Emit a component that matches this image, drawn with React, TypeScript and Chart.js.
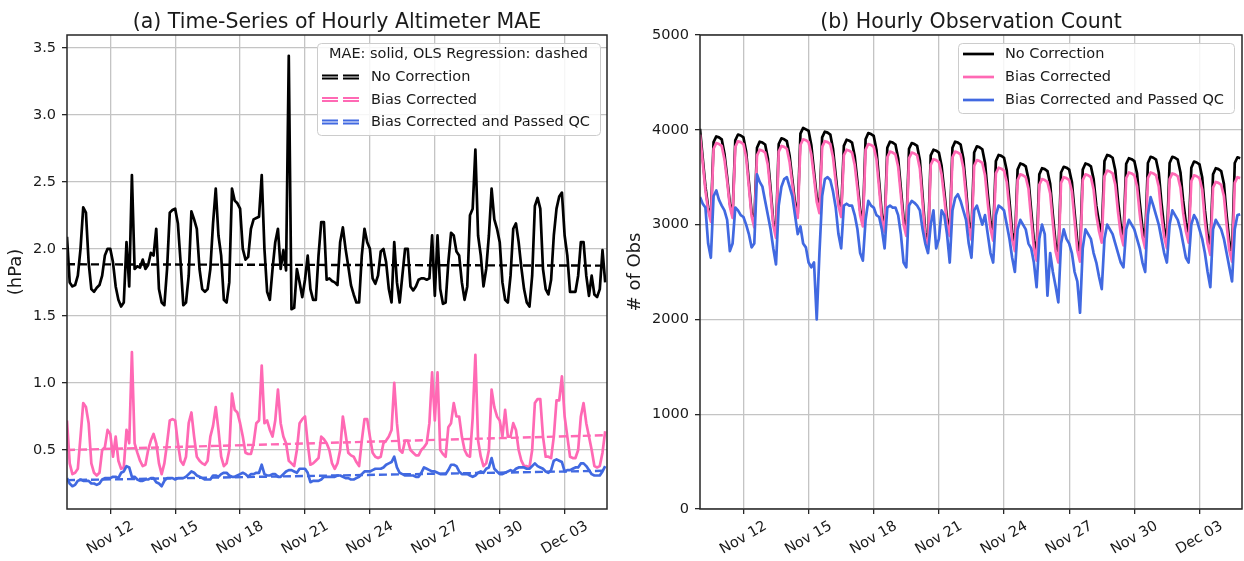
import React, { useEffect, useRef } from 'react';
import { Chart, registerables } from 'chart.js';

Chart.register(...registerables);

// ---------------- data ----------------
const STEP_HOURS = 3; // samples every 3 h starting Nov 10 00:00
const X_MAX_HOURS = 599;
const TICK_HOURS = [48, 120, 192, 264, 336, 408, 480, 552];
const TICK_LABELS = ['Nov 12', 'Nov 15', 'Nov 18', 'Nov 21', 'Nov 24', 'Nov 27', 'Nov 30', 'Dec 03'];
const MAE_TICKS = [0.5, 1.0, 1.5, 2.0, 2.5, 3.0, 3.5];
const COUNT_TICKS = [0, 1000, 2000, 3000, 4000, 5000];
const SERIES_NAMES = ['No Correction', 'Bias Corrected', 'Bias Corrected and Passed QC'];
const SERIES_COLORS = ['#000000', '#ff69b4', '#4169e1'];

// Hourly altimeter MAE (hPa)
const maeNoCorrection = [
  2.09, 1.75, 1.72, 1.73, 1.80, 2.00, 2.31, 2.27,
  1.90, 1.70, 1.68, 1.71, 1.73, 1.80, 1.95, 2.00,
  2.00, 1.90, 1.72, 1.62, 1.57, 1.60, 2.05, 1.72,
  2.55, 1.85, 1.87, 1.86, 1.92, 1.85, 1.88, 1.97,
  1.95, 2.15, 1.70, 1.60, 1.58, 1.85, 2.27, 2.29,
  2.30, 2.19, 1.90, 1.58, 1.60, 1.80, 2.28, 2.22,
  2.15, 1.85, 1.70, 1.68, 1.70, 1.85, 2.19, 2.45,
  2.10, 1.95, 1.62, 1.60, 1.75, 2.45, 2.36, 2.34,
  2.30, 2.00, 1.92, 1.94, 2.15, 2.22, 2.23, 2.24,
  2.55, 2.00, 1.68, 1.62, 1.85, 2.05, 2.15, 1.85,
  1.99, 1.84, 3.44, 1.55, 1.56, 1.85, 1.75, 1.64,
  1.77, 1.95, 1.70, 1.62, 1.62, 1.95, 2.20, 2.20,
  1.77, 1.78, 1.76, 1.75, 1.73, 2.05, 2.16, 2.00,
  1.87, 1.73, 1.66, 1.60, 1.60, 1.95, 2.15, 2.05,
  2.00, 1.78, 1.74, 1.80, 1.98, 2.00, 1.90, 1.70,
  1.60, 2.05, 1.75, 1.60, 1.80, 2.00, 2.00, 1.72,
  1.69, 1.72, 1.77, 1.78, 1.78, 1.77, 1.78, 2.10,
  1.65, 2.10, 1.70, 1.59, 1.60, 1.90, 2.12, 2.10,
  1.98, 1.95, 1.75, 1.62, 1.72, 2.25, 2.30, 2.74,
  2.10, 1.95, 1.72, 1.85, 2.10, 2.45, 2.22, 2.15,
  2.05, 1.75, 1.62, 1.60, 1.80, 2.15, 2.19, 2.05,
  1.86, 1.70, 1.60, 1.57, 1.80, 2.32, 2.38, 2.30,
  1.85, 1.70, 1.66, 1.77, 2.10, 2.30, 2.39, 2.42,
  2.10, 1.95, 1.68, 1.68, 1.68, 1.80, 2.05, 2.05,
  1.80, 1.65, 1.80, 1.66, 1.64, 1.70, 1.99, 1.75,
];

const maeBiasCorrected = [
  0.72, 0.40, 0.32, 0.33, 0.36, 0.60, 0.85, 0.82,
  0.70, 0.40, 0.33, 0.31, 0.33, 0.50, 0.52, 0.65,
  0.62, 0.45, 0.60, 0.42, 0.36, 0.37, 0.65, 0.55,
  1.23, 0.55, 0.48, 0.42, 0.38, 0.39, 0.50, 0.57,
  0.62, 0.55, 0.40, 0.32, 0.40, 0.55, 0.72, 0.73,
  0.72, 0.55, 0.42, 0.39, 0.45, 0.70, 0.78, 0.60,
  0.45, 0.42, 0.40, 0.39, 0.42, 0.60, 0.68, 0.82,
  0.65, 0.45, 0.38, 0.40, 0.50, 0.92, 0.80, 0.78,
  0.70, 0.60, 0.48, 0.47, 0.47, 0.55, 0.70, 0.72,
  1.13, 0.70, 0.72, 0.65, 0.60, 0.72, 0.95, 0.70,
  0.60, 0.55, 0.42, 0.40, 0.38, 0.50, 0.70, 0.73,
  0.75, 0.55, 0.39, 0.40, 0.42, 0.44, 0.60, 0.58,
  0.55, 0.50, 0.40, 0.36, 0.40, 0.50, 0.75, 0.62,
  0.48, 0.46, 0.45, 0.41, 0.38, 0.57, 0.73, 0.73,
  0.60, 0.48, 0.45, 0.44, 0.45, 0.55, 0.57, 0.60,
  0.65, 1.00, 0.70, 0.50, 0.48, 0.57, 0.57, 0.50,
  0.48, 0.46, 0.46, 0.50, 0.52, 0.55, 0.70, 1.08,
  0.72, 1.08, 0.50, 0.47, 0.45, 0.67, 0.70, 0.85,
  0.75, 0.75, 0.60, 0.50, 0.46, 0.45, 0.74, 1.21,
  0.57, 0.45, 0.38, 0.40, 0.50, 0.95, 0.82, 0.75,
  0.72, 0.60, 0.80, 0.60, 0.60, 0.70, 0.65, 0.50,
  0.42, 0.38, 0.38, 0.37, 0.50, 0.85, 0.88, 0.88,
  0.60, 0.45, 0.45, 0.44, 0.60, 0.87, 0.87, 1.05,
  0.75, 0.60, 0.45, 0.44, 0.44, 0.50, 0.75, 0.85,
  0.70, 0.60, 0.50, 0.38, 0.37, 0.38, 0.48, 0.64,
];

const maePassedQC = [
  0.29, 0.25, 0.23, 0.24, 0.27, 0.28, 0.27, 0.27,
  0.27, 0.25, 0.25, 0.24, 0.25, 0.28, 0.29, 0.29,
  0.29, 0.30, 0.30, 0.29, 0.33, 0.34, 0.38, 0.37,
  0.30, 0.30, 0.28, 0.27, 0.27, 0.28, 0.28, 0.29,
  0.29, 0.26, 0.25, 0.23, 0.27, 0.29, 0.29, 0.29,
  0.28, 0.29, 0.29, 0.29, 0.30, 0.32, 0.34, 0.33,
  0.31, 0.30, 0.29, 0.28, 0.28, 0.28, 0.31, 0.31,
  0.30, 0.32, 0.33, 0.33, 0.31, 0.30, 0.30, 0.31,
  0.32, 0.33, 0.32, 0.30, 0.32, 0.32, 0.33, 0.33,
  0.39, 0.32, 0.31, 0.31, 0.32, 0.32, 0.30, 0.30,
  0.32, 0.34, 0.35, 0.35, 0.34, 0.33, 0.36, 0.36,
  0.36, 0.33, 0.26, 0.27, 0.27, 0.27, 0.28, 0.30,
  0.30, 0.30, 0.30, 0.30, 0.31, 0.31, 0.30, 0.29,
  0.29, 0.28, 0.28, 0.29, 0.30, 0.32, 0.34, 0.34,
  0.34, 0.35, 0.36, 0.36, 0.36, 0.37, 0.39, 0.40,
  0.41, 0.45, 0.37, 0.33, 0.32, 0.31, 0.31, 0.31,
  0.31, 0.30, 0.30, 0.33, 0.37, 0.36, 0.35, 0.34,
  0.34, 0.33, 0.32, 0.32, 0.32, 0.35, 0.39, 0.39,
  0.38, 0.34, 0.32, 0.32, 0.32, 0.31, 0.30, 0.31,
  0.33, 0.34, 0.33, 0.36, 0.37, 0.44, 0.36, 0.34,
  0.32, 0.32, 0.33, 0.34, 0.35, 0.34, 0.36, 0.37,
  0.37, 0.37, 0.36, 0.36, 0.38, 0.40, 0.38, 0.37,
  0.36, 0.34, 0.33, 0.35, 0.42, 0.43, 0.42, 0.41,
  0.34, 0.35, 0.35, 0.36, 0.37, 0.37, 0.40, 0.40,
  0.38, 0.35, 0.32, 0.31, 0.31, 0.31, 0.34, 0.38,
];

// OLS regression lines: [value at start, value at end]
const REG_HOURS = [0, 597];
const regNoCorrection = [1.885, 1.875];
const regBiasCorrected = [0.5, 0.61];
const regPassedQC = [0.275, 0.345];

// Hourly observation counts
const countNoCorrection = [
  4010, 3700, 3400, 3180, 3060, 3870, 3930, 3920,
  3900, 3750, 3500, 3220, 3100, 3890, 3950, 3940,
  3920, 3770, 3450, 3130, 3005, 3810, 3875, 3865,
  3845, 3700, 3380, 3030, 2900, 3850, 3910, 3900,
  3880, 3730, 3480, 3230, 3110, 3960, 4020, 4005,
  3990, 3840, 3560, 3290, 3165, 3920, 3980, 3970,
  3950, 3800, 3520, 3250, 3130, 3830, 3895, 3885,
  3865, 3720, 3450, 3150, 3025, 3900, 3965, 3955,
  3935, 3790, 3450, 3100, 2970, 3810, 3875, 3865,
  3845, 3700, 3380, 3060, 2935, 3800, 3860, 3850,
  3830, 3680, 3300, 2920, 2795, 3730, 3790, 3780,
  3760, 3620, 3350, 3060, 2935, 3810, 3875, 3865,
  3845, 3700, 3380, 3030, 2900, 3760, 3825, 3815,
  3795, 3650, 3330, 3030, 2900, 3670, 3735, 3725,
  3705, 3570, 3250, 2920, 2795, 3580, 3645, 3635,
  3615, 3480, 3150, 2830, 2705, 3530, 3595, 3585,
  3565, 3430, 3100, 2800, 2670, 3550, 3610, 3600,
  3580, 3450, 3130, 2820, 2690, 3580, 3645, 3635,
  3615, 3480, 3200, 3020, 2900, 3670, 3735, 3725,
  3705, 3570, 3250, 2990, 2865, 3640, 3700, 3690,
  3670, 3540, 3230, 2960, 2830, 3650, 3715, 3705,
  3685, 3550, 3230, 2960, 2830, 3650, 3715, 3705,
  3685, 3550, 3250, 3020, 2900, 3600, 3665, 3655,
  3635, 3500, 3150, 2890, 2760, 3530, 3595, 3585,
  3565, 3430, 3100, 2820, 2690, 3650, 3710, 3700,
];

const countBiasCorrected = [
  3950, 3660, 3360, 3150, 3030, 3800, 3860, 3850,
  3830, 3690, 3460, 3190, 3070, 3820, 3880, 3870,
  3850, 3710, 3400, 3090, 2970, 3730, 3790, 3780,
  3760, 3630, 3330, 2990, 2860, 3770, 3830, 3820,
  3800, 3660, 3430, 3190, 3070, 3840, 3900, 3890,
  3870, 3740, 3500, 3240, 3120, 3820, 3880, 3870,
  3850, 3710, 3450, 3200, 3080, 3730, 3790, 3780,
  3760, 3630, 3380, 3100, 2980, 3790, 3850, 3840,
  3820, 3690, 3380, 3050, 2920, 3710, 3770, 3760,
  3740, 3610, 3310, 3000, 2880, 3700, 3760, 3750,
  3730, 3590, 3230, 2860, 2740, 3630, 3690, 3680,
  3660, 3530, 3280, 3000, 2880, 3710, 3770, 3760,
  3740, 3600, 3300, 2970, 2840, 3620, 3680, 3670,
  3650, 3520, 3230, 2960, 2830, 3540, 3600, 3590,
  3570, 3450, 3150, 2840, 2720, 3470, 3530, 3520,
  3500, 3380, 3060, 2750, 2620, 3420, 3480, 3470,
  3450, 3330, 3010, 2720, 2600, 3440, 3500, 3490,
  3470, 3350, 3040, 2730, 2610, 3470, 3530, 3520,
  3500, 3370, 3100, 2930, 2810, 3510, 3570, 3560,
  3540, 3420, 3130, 2900, 2780, 3490, 3550, 3540,
  3520, 3400, 3110, 2870, 2750, 3490, 3550, 3540,
  3520, 3400, 3100, 2870, 2750, 3480, 3540, 3530,
  3510, 3390, 3120, 2930, 2810, 3460, 3520, 3510,
  3490, 3370, 3040, 2800, 2680, 3390, 3450, 3440,
  3420, 3300, 3000, 2730, 2610, 3440, 3500, 3490,
];

const countPassedQC = [
  3290, 3220, 3180, 2800, 2650, 3300, 3360, 3260,
  3200, 3150, 3050, 2720, 2800, 3180, 3150, 3100,
  3080, 3000, 2900, 2760, 2800, 3530, 3450, 3400,
  3250, 3100, 2950, 2750, 2580, 3200, 3400, 3480,
  3500, 3400, 3300, 3100, 2900, 2980, 2800, 2760,
  2600, 2550, 2600, 2000, 2700, 3300, 3480, 3500,
  3470, 3350, 3180, 2900, 2750, 3200, 3220, 3200,
  3200, 3100, 2950, 2700, 2620, 3050, 3250, 3200,
  3180, 3100, 3080, 2950, 2750, 3180, 3200, 3180,
  3180, 3100, 2900, 2600, 2550, 3200, 3250, 3230,
  3200, 3150, 2950, 2800, 2700, 3000, 3150, 2750,
  2850, 3150, 3100, 2900, 2600, 3150, 3280, 3320,
  3250, 3150, 3050, 2800, 2650, 3150, 3200, 3100,
  3000, 3100, 2900, 2700, 2600, 3100, 3200, 3180,
  3150, 3000, 2850, 2650, 2500, 2950, 3050, 3000,
  2950, 2800, 2750, 2600, 2340, 2850, 3000, 2900,
  2250, 2700, 2500, 2350, 2180, 2800, 2950, 2850,
  2800, 2700, 2500, 2400, 2070, 2750, 2950, 2900,
  2850, 2700, 2600, 2450, 2320, 2850, 3000, 2950,
  2900, 2800, 2700, 2600, 2550, 2950, 3050, 3000,
  2950, 2850, 2750, 2600, 2500, 3100, 3290, 3200,
  3100, 3000, 2850, 2700, 2600, 3000, 3150, 3100,
  3050, 2950, 2800, 2650, 2600, 3000, 3100, 3050,
  2950, 2850, 2700, 2500, 2340, 2950, 3050, 3000,
  2950, 2850, 2700, 2550, 2400, 2950, 3100, 3110,
];

// ---------------- helpers ----------------
const FONT = '"DejaVu Sans", "Liberation Sans", sans-serif';
const TEXT_COLOR = '#1a1a1a';
const GRID_COLOR = '#c4c4c4';
const SPINE_COLOR = '#262626';

const toPoints = (arr: number[]) => arr.map((v, i) => ({ x: i * STEP_HOURS, y: v }));
const regPoints = (arr: number[]) => arr.map((v, i) => ({ x: REG_HOURS[i], y: v }));

function lineDs(label: string, data: any[], color: string, dashed = false) {
  return {
    label,
    data,
    borderColor: color,
    backgroundColor: color,
    borderWidth: dashed ? 2.4 : 2.7,
    borderDash: dashed ? [8, 4] : [],
    pointRadius: 0,
    pointHoverRadius: 0,
    fill: false,
    tension: 0,
    borderJoinStyle: 'round' as const,
  };
}

type PanelOpts = {
  title: string;
  yLabel: string;
  yLabelX: number;
  legend: (ctx: CanvasRenderingContext2D) => void;
};

function decorPlugin(opts: PanelOpts) {
  return {
    id: 'decor',
    afterDraw(chart: any) {
      const ctx: CanvasRenderingContext2D = chart.ctx;
      const a = chart.chartArea;
      ctx.save();
      // spines (full box)
      ctx.strokeStyle = SPINE_COLOR;
      ctx.lineWidth = 1.5;
      ctx.strokeRect(a.left, a.top, a.right - a.left, a.bottom - a.top);
      // title
      ctx.fillStyle = TEXT_COLOR;
      ctx.font = `20.5px ${FONT}`;
      ctx.textAlign = 'center';
      ctx.textBaseline = 'alphabetic';
      ctx.fillText(opts.title, (a.left + a.right) / 2, 28);
      // y label
      ctx.font = `18px ${FONT}`;
      ctx.save();
      ctx.translate(opts.yLabelX, (a.top + a.bottom) / 2);
      ctx.rotate(-Math.PI / 2);
      ctx.textAlign = 'center';
      ctx.textBaseline = 'middle';
      ctx.fillText(opts.yLabel, 0, 0);
      ctx.restore();
      // x tick labels rotated 30 deg, centred under the tick
      const xs = chart.scales.x;
      ctx.font = `14.5px ${FONT}`;
      TICK_HOURS.forEach((h, i) => {
        const px = xs.getPixelForValue(h);
        ctx.save();
        ctx.translate(px, a.bottom + 29);
        ctx.rotate(-Math.PI / 6);
        ctx.textAlign = 'center';
        ctx.textBaseline = 'middle';
        ctx.fillText(TICK_LABELS[i], 0, 0);
        ctx.restore();
      });
      // legend
      opts.legend(ctx);
      ctx.restore();
    },
  };
}

function legendFrame(ctx: CanvasRenderingContext2D, x: number, y: number, w: number, h: number) {
  ctx.beginPath();
  (ctx as any).roundRect(x + 0.5, y + 0.5, w, h, 4);
  ctx.fillStyle = 'rgba(255,255,255,0.85)';
  ctx.fill();
  ctx.strokeStyle = '#cccccc';
  ctx.lineWidth = 1;
  ctx.stroke();
}

function drawLeftLegend(ctx: CanvasRenderingContext2D) {
  legendFrame(ctx, 317, 43, 283, 92);
  ctx.fillStyle = TEXT_COLOR;
  ctx.font = `14.5px ${FONT}`;
  ctx.textAlign = 'center';
  ctx.textBaseline = 'middle';
  ctx.fillText('MAE: solid, OLS Regression: dashed', 458.5, 54);
  const rows = [77, 99.5, 122];
  rows.forEach((ry, i) => {
    ctx.strokeStyle = SERIES_COLORS[i];
    ctx.lineWidth = 2;
    ctx.setLineDash([]);
    [ry - 1.6, ry + 1.6].forEach((yy) => {
      ctx.beginPath();
      ctx.moveTo(322, yy);
      ctx.lineTo(338, yy);
      ctx.moveTo(343, yy);
      ctx.lineTo(359, yy);
      ctx.stroke();
    });
    ctx.fillStyle = TEXT_COLOR;
    ctx.textAlign = 'left';
    ctx.fillText(SERIES_NAMES[i], 371, ry + 0.5);
  });
}

function drawRightLegend(ctx: CanvasRenderingContext2D) {
  legendFrame(ctx, 338, 43, 276, 70);
  ctx.font = `14.5px ${FONT}`;
  ctx.textBaseline = 'middle';
  const rows = [54, 77, 100];
  rows.forEach((ry, i) => {
    ctx.strokeStyle = SERIES_COLORS[i];
    ctx.lineWidth = 2.7;
    ctx.setLineDash([]);
    ctx.beginPath();
    ctx.moveTo(343, ry);
    ctx.lineTo(374, ry);
    ctx.stroke();
    ctx.fillStyle = TEXT_COLOR;
    ctx.textAlign = 'left';
    ctx.fillText(SERIES_NAMES[i], 385, ry + 0.5);
  });
}

function baseOptions(yTicks: number[], yMin: number, yMax: number, yFmt: (v: number) => string, yWidth: number, padRight: number) {
  return {
    responsive: false,
    maintainAspectRatio: false,
    animation: false as const,
    devicePixelRatio: 1,
    events: [] as any[],
    layout: { padding: { top: 35, right: padRight, bottom: 0, left: 0 } },
    plugins: { legend: { display: false }, title: { display: false }, tooltip: { enabled: false } },
    scales: {
      x: {
        type: 'linear' as const,
        min: 0,
        max: X_MAX_HOURS,
        afterBuildTicks: (s: any) => {
          s.ticks = TICK_HOURS.map((v) => ({ value: v }));
        },
        afterFit: (s: any) => {
          s.height = 52;
        },
        ticks: { display: false, autoSkip: false },
        grid: { color: GRID_COLOR, lineWidth: 1.3, drawTicks: true, tickLength: 5, tickColor: SPINE_COLOR, tickWidth: 1.3 },
        border: { display: false },
      },
      y: {
        type: 'linear' as const,
        min: yMin,
        max: yMax,
        afterBuildTicks: (s: any) => {
          s.ticks = yTicks.map((v) => ({ value: v }));
        },
        afterFit: (s: any) => {
          s.width = yWidth;
        },
        ticks: {
          autoSkip: false,
          padding: 6,
          color: TEXT_COLOR,
          font: { family: FONT, size: 14.5 },
          callback: (v: any) => yFmt(Number(v)),
        },
        grid: { color: GRID_COLOR, lineWidth: 1.3, drawTicks: true, tickLength: 5, tickColor: SPINE_COLOR, tickWidth: 1.3 },
        border: { display: false },
      },
    },
  };
}

function MaePanel() {
  const ref = useRef<HTMLCanvasElement | null>(null);
  useEffect(() => {
    if (!ref.current) return;
    const chart = new Chart(ref.current, {
      type: 'line',
      data: {
        datasets: [
          lineDs('Bias Corrected and Passed QC (OLS)', regPoints(regPassedQC), SERIES_COLORS[2], true),
          lineDs(SERIES_NAMES[2], toPoints(maePassedQC), SERIES_COLORS[2]),
          lineDs('Bias Corrected (OLS)', regPoints(regBiasCorrected), SERIES_COLORS[1], true),
          lineDs(SERIES_NAMES[1], toPoints(maeBiasCorrected), SERIES_COLORS[1]),
          lineDs('No Correction (OLS)', regPoints(regNoCorrection), SERIES_COLORS[0], true),
          lineDs(SERIES_NAMES[0], toPoints(maeNoCorrection), SERIES_COLORS[0]),
        ],
      },
      options: baseOptions(MAE_TICKS, 0.06, 3.595, (v) => v.toFixed(1), 67, 13) as any,
      plugins: [
        decorPlugin({
          title: '(a) Time-Series of Hourly Altimeter MAE',
          yLabel: '(hPa)',
          yLabelX: 16,
          legend: drawLeftLegend,
        }),
      ],
    });
    return () => chart.destroy();
  }, []);
  return <canvas ref={ref} width={620} height={561} style={{ display: 'block' }} />;
}

function CountPanel() {
  const ref = useRef<HTMLCanvasElement | null>(null);
  useEffect(() => {
    if (!ref.current) return;
    const chart = new Chart(ref.current, {
      type: 'line',
      data: {
        datasets: [
          lineDs(SERIES_NAMES[2], toPoints(countPassedQC), SERIES_COLORS[2]),
          lineDs(SERIES_NAMES[1], toPoints(countBiasCorrected), SERIES_COLORS[1]),
          lineDs(SERIES_NAMES[0], toPoints(countNoCorrection), SERIES_COLORS[0]),
        ],
      },
      options: baseOptions(COUNT_TICKS, 0, 5000, (v) => String(Math.round(v)), 80, 2) as any,
      plugins: [
        decorPlugin({
          title: '(b) Hourly Observation Count',
          yLabel: '# of Obs',
          yLabelX: 15,
          legend: drawRightLegend,
        }),
      ],
    });
    return () => chart.destroy();
  }, []);
  return <canvas ref={ref} width={624} height={561} style={{ display: 'block' }} />;
}

export default function App() {
  return (
    <div style={{ position: 'absolute', left: 0, top: 0, width: 1244, height: 561, background: '#ffffff', overflow: 'hidden' }}>
      <div style={{ position: 'absolute', left: 0, top: 0 }}>
        <MaePanel />
      </div>
      <div style={{ position: 'absolute', left: 620, top: 0 }}>
        <CountPanel />
      </div>
    </div>
  );
}
